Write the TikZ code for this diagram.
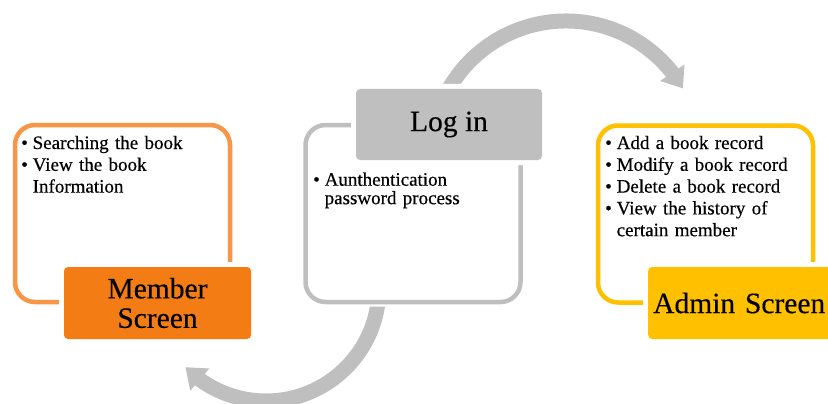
\documentclass[tikz,border=0pt]{standalone}
\usepackage{fontspec}
\setmainfont{Liberation Serif}[FakeBold=0.3]
\newfontfamily\bodyfont{Liberation Serif}[FakeBold=0.4]
\usetikzlibrary{arrows.meta,bending}

\definecolor{memline}{HTML}{F79646}
\definecolor{memfill}{HTML}{F47C14}
\definecolor{gold}{HTML}{FFC000}
\definecolor{greyc}{HTML}{BFBFBF}

% one bullet item; wrapped lines stay under the text
\newcommand\bul[1]{\par\noindent\makebox[11.5pt][l]{\textbullet}\parbox[t]{190pt}{\raggedright #1}}

\tikzset{
  panel/.style={draw=#1, line width=4.5pt, rounded corners=20pt,
    preaction={draw=white, line width=9pt},
    minimum width=215pt, minimum height=177pt, inner sep=0pt},
  titlebox/.style={fill=#1, rounded corners=4pt,
    preaction={draw=white, line width=10pt},
    inner sep=0pt, minimum height=72pt, align=center,
    font=\fontsize{29.5}{29.5}\selectfont},
  bullets/.style={anchor=north west, inner sep=0pt, text width=205pt,
    align=left, font=\bodyfont\fontsize{19}{21.8}\selectfont},
  flow/.style={draw=greyc, line width=15pt,
    -{Triangle[length=19pt,width=28pt]}},
}

\begin{document}
\begin{tikzpicture}[x=1pt,y=-1pt]
  \useasboundingbox (0,0) rectangle (828,404);
  \clip (0,0) rectangle (828,404);

  % curved flow arrows
  \coordinate (topc) at (566,156);
  \coordinate (botc) at (266,288);
  \draw[flow] (topc) ++(-150:135) arc[start angle=-150, end angle=-30, radius=135];
  \draw[flow] (botc) ++(6:113) arc[start angle=6, end angle=135.5, radius=113];

  % outlined panels
  \node[panel=memline] (mempanel) at (122.5,213.5) {};
  \node[panel=greyc]   (logpanel) at (413,213.5) {};
  \node[panel=gold]    (admpanel) at (705.5,214) {};

  % title boxes
  \node[titlebox=memfill, minimum width=187pt] (member) at (157.5,303) {Member\\Screen};
  \node[titlebox=greyc, minimum width=186pt, minimum height=71pt] (login) at (449,124.5) {Log in};
  \node[titlebox=gold, anchor=west, text width=182pt, align=left, inner xsep=5pt] (admin) at (648,303) {Admin Screen};

  % bullet lists
  \node[bullets] (memtext) at (21,127)
    {\bul{Searching the book}\bul{View the book\\Information}};
  \node[bullets, font=\bodyfont\fontsize{19}{18.5}\selectfont] (logtext) at (313,167)
    {\bul{Aunthentication\\password process}};
  \node[bullets] (admtext) at (605,127)
    {\bul{Add a book record}\bul{Modify a book record}\bul{Delete a book record}\bul{View the history of\\certain member}};
\end{tikzpicture}
\end{document}
